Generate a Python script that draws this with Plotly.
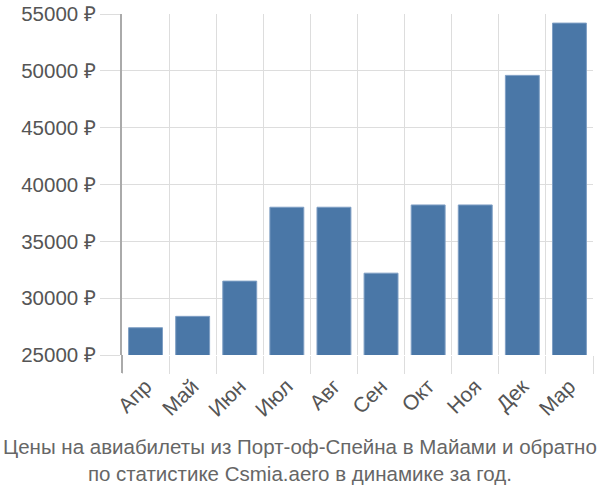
import plotly.graph_objects as go

months = ["Апр", "Май", "Июн", "Июл", "Авг", "Сен", "Окт", "Ноя", "Дек", "Мар"]
prices = [27400, 28400, 31500, 38000, 38000, 32200, 38200, 38200, 49600, 54200]
y_ticks = [25000, 30000, 35000, 40000, 45000, 50000, 55000]
y_labels = [f"{v} ₽" for v in y_ticks]
title_lines = ["Цены на авиабилеты из Порт-оф-Спейна в Майами и обратно",
               "по статистике Csmia.aero в динамике за год."]

fig = go.Figure(go.Bar(
    x=months, y=prices,
    marker=dict(color="#4a77a7", line=dict(color="#7f9fc4", width=1)),
))

fig.update_layout(
    width=600, height=500,
    margin=dict(l=122, r=7, t=14, b=145),
    plot_bgcolor="white", paper_bgcolor="white",
    bargap=0.28,
    showlegend=False,
    font=dict(family="Liberation Sans, Arial, sans-serif", size=20, color="#555555"),
    xaxis=dict(
        showgrid=True, gridcolor="#dddddd", gridwidth=1,
        tickson="boundaries",
        ticks="outside", ticklen=18, tickcolor="#dddddd",
        ticklabelstandoff=14,
        tickangle=-45, tickfont=dict(size=21, color="#555555"),
        showline=False, zeroline=False, automargin=False,
    ),
    yaxis=dict(
        range=[25000, 55000],
        tickvals=y_ticks, ticktext=y_labels,
        showgrid=True, gridcolor="#dddddd", gridwidth=1,
        ticks="outside", ticklen=20, tickcolor="#dddddd",
        tickfont=dict(size=20.5, color="#555555"),
        showline=True, linecolor="#aaaaaa", linewidth=2,
        zeroline=False, automargin=False,
    ),
    shapes=[dict(type="line", xref="paper", yref="paper",
                 x0=0, x1=0, y0=0, y1=-18 / 341,
                 line=dict(color="#aaaaaa", width=2))],
    annotations=[dict(
        text="<br>".join(title_lines),
        xref="paper", yref="paper", x=0.5, xanchor="center",
        y=-0.23, yanchor="top", showarrow=False,
        font=dict(size=20.5, color="#666666"),
        xshift=-58,
    )],
)

fig.write_html("out.html")
